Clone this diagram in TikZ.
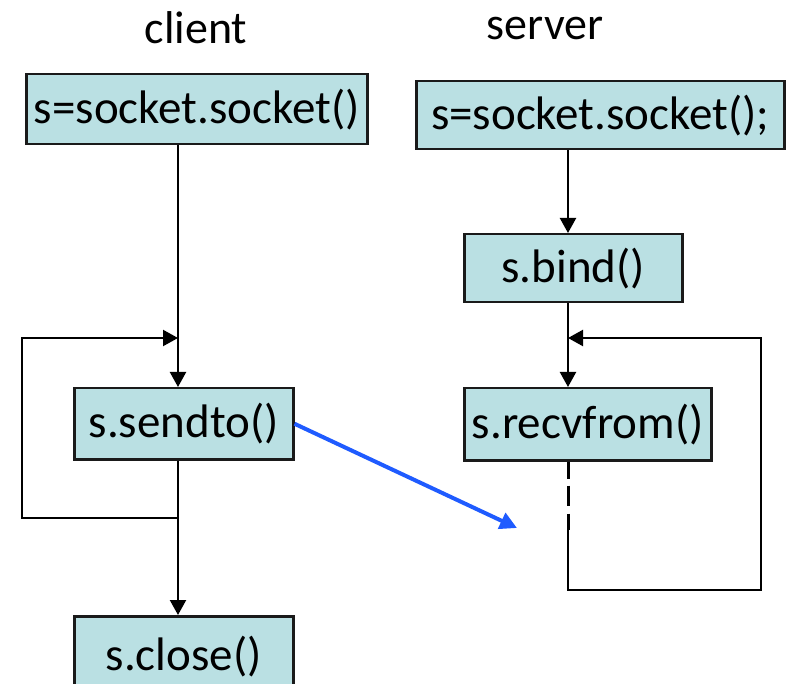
\documentclass[tikz,border=0pt]{standalone}
\usepackage{fontspec}
\setmainfont{Carlito}
\usetikzlibrary{arrows.meta}
\definecolor{boxfill}{HTML}{BAE0E3}
\definecolor{boxline}{HTML}{1A1A1A}
\definecolor{msgblue}{HTML}{1F5BFF}
\begin{document}
\begin{tikzpicture}[x=1pt,y=-1pt,
  fn/.style={draw=boxline,line width=2.5pt,fill=boxfill,inner sep=0pt,anchor=north west,font=\fontsize{47}{54}\selectfont},
  lbl/.style={font=\fontsize{46}{52}\selectfont},
  flow/.style={line width=2.2pt,-{Triangle[length=15pt,width=16pt]}},
  plain/.style={draw=black,line width=3pt},
  msg/.style={draw=msgblue,line width=4pt,-{Triangle[length=17pt,width=17pt]}}]
\useasboundingbox (0,0) rectangle (798,684);
\clip (0,0) rectangle (798,684);
\node[lbl] (lc) at (196,28) {client};
\node[lbl] (ls) at (545,28) {server};
\node[fn,minimum width=341pt,minimum height=70pt] (csock) at (25,73) {s=socket.socket()};
\node[fn,minimum width=368pt,minimum height=68pt] (ssock) at (415,80) {s=socket.socket();};
\node[fn,minimum width=218pt,minimum height=68pt] (bind) at (463,233) {s.bind()};
\node[fn,minimum width=247pt,minimum height=72pt] (recv) at (463,387) {s.recvfrom()};
\node[fn,minimum width=219pt,minimum height=71pt] (send) at (73,387) {s.sendto()};
\node[fn,minimum width=219pt,minimum height=80pt] (close) at (73,615) {s.close()};
% client flow
\coordinate (cj) at (178,338);
\coordinate (cs) at (178,518);
\draw[flow] (csock.south -| cj) -- (send.north -| cj);
\draw[flow] (send.south -| cs) -- (close.north -| cs);
\draw[flow] (cs) -- (22,518) -- (22,338) -- (cj);
% server flow
\coordinate (sj) at (568,338);
\coordinate (sd) at (568,530);
\draw[flow] (ssock.south -| sj) -- (bind.north -| sj);
\draw[flow] (bind.south -| sj) -- (recv.north -| sj);
\draw[plain,dash pattern=on 17pt off 7pt on 20pt off 8pt on 25pt] (recv.south -| sd) -- (sd);
\draw[flow] (sd) -- (568,590) -- (761,590) -- (761,338) -- (sj);
% message
\coordinate (mend) at (517,528);
\draw[msg] (send.east) -- (mend);
\end{tikzpicture}
\end{document}
